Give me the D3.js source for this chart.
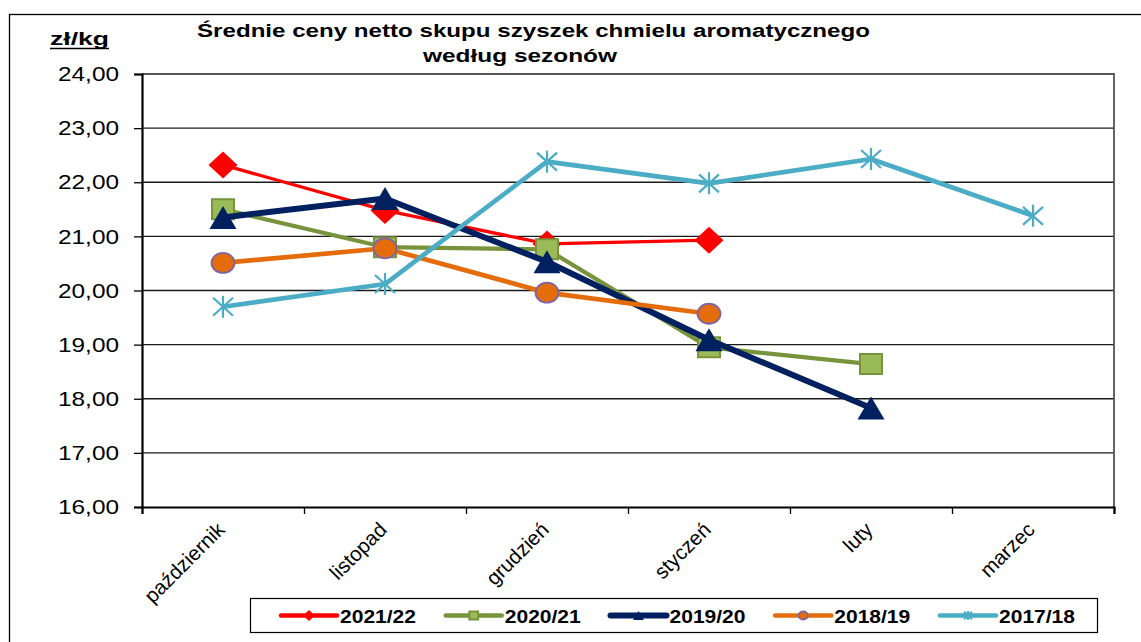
<!DOCTYPE html>
<html>
<head>
<meta charset="utf-8">
<script src="https://cdn.jsdelivr.net/npm/d3@7"></script>
<style>
  html, body { margin: 0; padding: 0; background: #fff; }
  svg { display: block; font-family: "Liberation Sans", Arial, sans-serif; }
</style>
</head>
<body>
<svg id="chart" width="1141" height="642"></svg>
<script>
// Średnie ceny netto skupu szyszek chmielu aromatycznego — wykres liniowy

// ---- Data ----
const months = ["październik", "listopad", "grudzień", "styczeń", "luty", "marzec"];
const seasons = ["2021/22", "2020/21", "2019/20", "2018/19", "2017/18"];
const v2122 = [22.32, 21.48, 20.86, 20.93];
const v2021 = [21.50, 20.80, 20.76, 18.95, 18.64];
const v1920 = [21.35, 21.70, 20.53, 19.09, 17.83];
const v1819 = [20.51, 20.78, 19.96, 19.57];
const v1718 = [19.70, 20.12, 22.38, 21.98, 22.43, 21.38];
const yTicks = [16, 17, 18, 19, 20, 21, 22, 23, 24];

const seriesValues = [v2122, v2021, v1920, v1819, v1718];

// styles per season (same order as seasons)
const styles = [
  { line: "#FF0000", width: 3.3, marker: "diamond", fill: "#FF0000", stroke: "none" },
  { line: "#77933C", width: 4.2, marker: "square",  fill: "#9BBB59", stroke: "#77933C" },
  { line: "#002060", width: 6,   marker: "triangle",fill: "#002060", stroke: "none" },
  { line: "#E46C0A", width: 4.7, marker: "circle",  fill: "#E46C0A", stroke: "#8064A2" },
  { line: "#4BACC6", width: 4.7, marker: "star",    fill: "none",    stroke: "#4BACC6" }
];

const svg = d3.select("#chart");

// ---- Layout / scales ----
const PLOT = { left: 142, right: 1114, top: 74, bottom: 507 };

const x = d3.scaleBand().domain(months).range([PLOT.left, PLOT.right]).padding(0);
const xc = d => x(d) + x.bandwidth() / 2;
const xTickPos = d3.scaleLinear().domain([0, months.length]).range([PLOT.left, PLOT.right]);
const y = d3.scaleLinear().domain([16, 24]).range([PLOT.bottom, PLOT.top]);

function fit(sel, w) {
  sel.attr("textLength", w).attr("lengthAdjust", "spacingAndGlyphs");
}

// outer frame (cropped at right/bottom)
svg.append("rect")
  .attr("x", 9.5).attr("y", 14.5)
  .attr("width", 1200).attr("height", 700)
  .attr("fill", "none").attr("stroke", "#000").attr("stroke-width", 1.3);

// title
const t1 = svg.append("text").attr("x", 197).attr("y", 37)
  .attr("font-size", 17.5).attr("font-weight", "bold").attr("fill", "#000")
  .text("Średnie ceny netto skupu szyszek chmielu aromatycznego");
fit(t1, 673);
const t2 = svg.append("text").attr("x", 423).attr("y", 62)
  .attr("font-size", 17.5).attr("font-weight", "bold").attr("fill", "#000")
  .text("według sezonów");
fit(t2, 194);

// unit label
const unit = svg.append("text").attr("x", 50).attr("y", 45)
  .attr("font-size", 18).attr("font-weight", "bold").attr("fill", "#000")
  .text("zł/kg");
fit(unit, 59);
svg.append("line")
  .attr("x1", 50).attr("x2", 109).attr("y1", 48.5).attr("y2", 48.5)
  .attr("stroke", "#000").attr("stroke-width", 1.5);

// grid
svg.append("g").attr("class", "grid")
  .selectAll("line").data(yTicks.filter(d => d > 16 && d < 24)).enter().append("line")
  .attr("x1", PLOT.left).attr("x2", PLOT.right)
  .attr("y1", d => y(d)).attr("y2", d => y(d))
  .attr("stroke", "#1a1a1a").attr("stroke-width", 1.3);

// plot border (top / right)
svg.append("path")
  .attr("d", `M${PLOT.left},${PLOT.top}H${PLOT.right}V${PLOT.bottom}`)
  .attr("fill", "none").attr("stroke", "#555").attr("stroke-width", 1.8);

// y axis
const yAxis = svg.append("g")
  .attr("transform", `translate(${PLOT.left},0)`)
  .call(d3.axisLeft(y).tickValues(yTicks).tickSize(8).tickPadding(15)
    .tickFormat(d => d3.format(".2f")(d).replace(".", ",")));
yAxis.select(".domain").attr("stroke", "#000").attr("stroke-width", 2.2);
yAxis.selectAll(".tick line").attr("stroke", "#000").attr("stroke-width", 1.3);
yAxis.selectAll(".tick text")
  .attr("font-size", 21).attr("fill", "#000")
  .attr("font-family", "'Liberation Sans', Arial, sans-serif")
  .each(function() { fit(d3.select(this), 61); });

// x axis (ticks between categories)
const xAxis = svg.append("g")
  .attr("transform", `translate(0,${PLOT.bottom})`)
  .call(d3.axisBottom(xTickPos).tickValues(d3.range(months.length + 1)).tickSize(7).tickFormat(""));
xAxis.select(".domain").attr("stroke", "#000").attr("stroke-width", 2.2);
xAxis.selectAll(".tick line").attr("stroke", "#000").attr("stroke-width", 1.3);

svg.append("g").attr("class", "xlabels")
  .selectAll("text").data(months).enter().append("text")
  .attr("transform", d => `translate(${xc(d) + 3},${PLOT.bottom + 24}) rotate(-45)`)
  .attr("text-anchor", "end")
  .attr("font-size", 20.5).attr("fill", "#000")
  .text(d => d);

// ---- markers ----
function markerPath(type, s) {
  switch (type) {
    case "diamond":  return `M${-14.5*s},0L0,${-13.5*s}L${14.5*s},0L0,${13.5*s}Z`;
    case "square":   return `M${-11*s},${-10*s}H${11*s}V${10*s}H${-11*s}Z`;
    case "triangle": return `M0,${-11.5*s}L${13.5*s},${11.5*s}L${-13.5*s},${11.5*s}Z`;
    case "circle":   return `M${-11.5*s},0A${11.5*s},${10*s} 0 1,0 ${11.5*s},0A${11.5*s},${10*s} 0 1,0 ${-11.5*s},0Z`;
    case "star":     return `M${-10*s},${-9*s}L${10*s},${9*s}M${-10*s},${9*s}L${10*s},${-9*s}M0,${-11*s}L0,${11*s}`;
  }
}

function drawMarker(g, st, cx, cy, s) {
  g.append("path")
    .attr("transform", `translate(${cx},${cy})`)
    .attr("d", markerPath(st.marker, s))
    .attr("fill", st.fill)
    .attr("stroke", st.stroke)
    .attr("stroke-width", st.marker === "star" ? 2.2 : (st.marker === "circle" ? 1.8 : 2));
}

// ---- series ----
const line = d3.line().x((d, i) => xc(months[i])).y(d => y(d));

seasons.forEach((name, si) => {
  const vals = seriesValues[si];
  const st = styles[si];
  const g = svg.append("g").attr("class", "series");
  g.append("path")
    .datum(vals)
    .attr("d", line)
    .attr("fill", "none")
    .attr("stroke", st.line)
    .attr("stroke-width", st.width)
    .attr("stroke-linejoin", "round");
  vals.forEach((v, i) => drawMarker(g, st, xc(months[i]), y(v), 1));
});

// ---- legend ----
const legend = svg.append("g").attr("class", "legend");
legend.append("rect")
  .attr("x", 250.5).attr("y", 598.5).attr("width", 847).attr("height", 34)
  .attr("fill", "#fff").attr("stroke", "#000").attr("stroke-width", 1.2);

const legStep = d3.scaleLinear().domain([0, 4]).range([281, 940]);
seasons.forEach((name, si) => {
  const st = styles[si];
  const lx = legStep(si);
  const ly = 615.5;
  const item = legend.append("g");
  item.append("line")
    .attr("x1", lx).attr("x2", lx + 56).attr("y1", ly).attr("y2", ly)
    .attr("stroke", st.line).attr("stroke-width", Math.max(st.width, 4.5))
    .attr("stroke-linecap", "round");
  drawMarker(item, st, lx + 28, ly, 0.4);
  const lt = item.append("text")
    .attr("x", lx + 59).attr("y", ly + 7)
    .attr("font-size", 18.5).attr("font-weight", "bold").attr("fill", "#000")
    .text(name);
  fit(lt, 76);
});
</script>
</body>
</html>
